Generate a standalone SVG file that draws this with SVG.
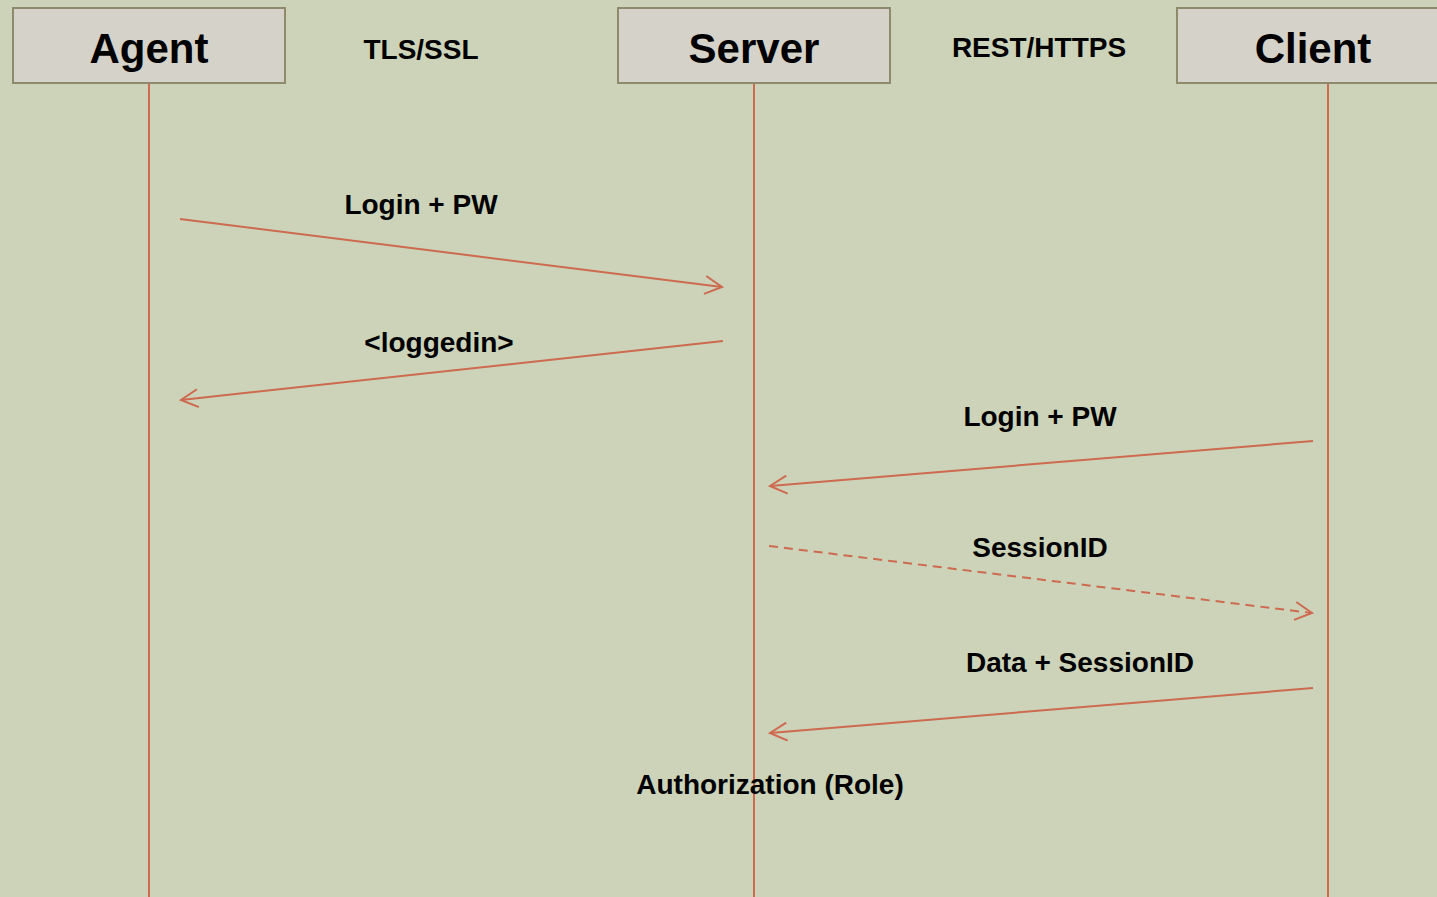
<svg xmlns="http://www.w3.org/2000/svg" width="1437" height="897" viewBox="0 0 1437 897">
  <defs>
    <marker id="open" viewBox="0 0 20 20" refX="18" refY="10" markerWidth="20" markerHeight="20" markerUnits="userSpaceOnUse" orient="auto">
      <path d="M1,1 L18,10 L1,19" fill="none" stroke="#cd6a4f" stroke-width="2"/>
    </marker>
    <style>
      .box { fill: #d5d2c9; stroke: #8f8a6c; stroke-width: 2; }
      .title { font-family: "Liberation Sans", Arial, sans-serif; font-weight: bold; font-size: 42px; fill: #000; text-anchor: middle; }
      .lbl { font-family: "Liberation Sans", Arial, sans-serif; font-weight: bold; font-size: 28px; fill: #000; text-anchor: middle; }
      .life { stroke: #cd6a4f; stroke-width: 2; fill: none; }
      .msg { stroke: #cd6a4f; stroke-width: 2; fill: none; marker-end: url(#open); }
      .dash { stroke-dasharray: 9 6; }
    </style>
  </defs>

  <rect width="1437" height="897" fill="#ccd3b9"/>

  <!-- lifelines -->
  <g id="lifelines">
    <line class="life" x1="149" y1="83" x2="149" y2="897"/>
    <line class="life" x1="754" y1="83" x2="754" y2="897"/>
    <line class="life" x1="1328" y1="83" x2="1328" y2="897"/>
  </g>

  <g id="agent">
    <rect class="box" x="13" y="8" width="272" height="75"/>
    <text class="title" x="149" y="63">Agent</text>
  </g>
  <g id="server">
    <rect class="box" x="618" y="8" width="272" height="75"/>
    <text class="title" x="754" y="63">Server</text>
  </g>
  <g id="client">
    <rect class="box" x="1177" y="8" width="272" height="75"/>
    <text class="title" x="1313" y="63">Client</text>
  </g>

  <!-- channel labels -->
  <text class="lbl" x="421" y="59">TLS/SSL</text>
  <text class="lbl" x="1039" y="57">REST/HTTPS</text>

  <!-- messages -->
  <g id="connectors">
    <line class="msg" x1="180" y1="219" x2="722" y2="287"/>
    <line class="msg" x1="723" y1="341" x2="181" y2="400"/>
    <line class="msg" x1="1313" y1="441" x2="770" y2="486"/>
    <line class="msg dash" x1="769" y1="546" x2="1312" y2="613"/>
    <line class="msg" x1="1313" y1="688" x2="770" y2="733"/>
  </g>

  <g id="labels">
    <text class="lbl" x="421" y="214">Login + PW</text>
    <text class="lbl" x="439" y="352">&lt;loggedin&gt;</text>
    <text class="lbl" x="1040" y="426">Login + PW</text>
    <text class="lbl" x="1040" y="557">SessionID</text>
    <text class="lbl" x="1080" y="672">Data + SessionID</text>
    <text class="lbl" x="770" y="794">Authorization (Role)</text>
  </g>
</svg>
